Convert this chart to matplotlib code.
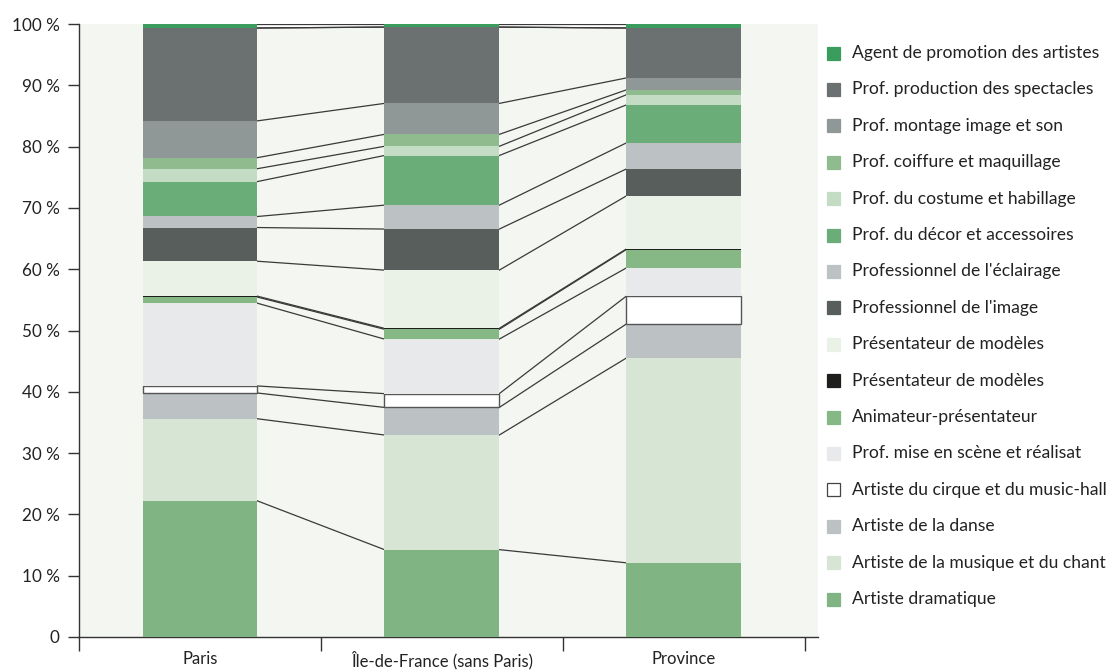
import numpy as np
import matplotlib.pyplot as plt
from matplotlib.patches import Rectangle

plt.rcParams['font.family'] = ['Lato', 'DejaVu Sans']

regions = ["Paris", "Île-de-France (sans Paris)", "Province"]

# stacking order, bottom to top (in %)
labels = ["Artiste dramatique", "Artiste de la musique et du chant", "Artiste de la danse",
          "Artiste du cirque et du music-hall", "Prof. mise en scène et réalisat",
          "Animateur-présentateur", "Présentateur de modèles", "Présentateur de modèles",
          "Professionnel de l'image", "Professionnel de l'éclairage",
          "Prof. du décor et accessoires", "Prof. du costume et habillage",
          "Prof. coiffure et maquillage", "Prof. montage image et son",
          "Prof. production des spectacles", "Agent de promotion des artistes"]

paris    = [22.2, 13.4, 4.2, 1.15, 13.5, 1.0, 0.15, 5.7, 5.5, 1.8, 5.7, 2.1, 1.8, 6.0, 15.15, 0.65]
idf      = [14.25, 18.7, 4.5, 2.25, 8.9, 1.6, 0.15, 9.5, 6.7, 3.9, 8.1, 1.5, 1.95, 5.05, 12.45, 0.5]
province = [12.1, 33.4, 5.55, 4.55, 4.6, 3.0, 0.1, 8.65, 4.4, 4.25, 6.2, 1.65, 0.8, 1.95, 8.15, 0.65]

colors = ["#80b482", "#d6e5d4", "#bcc1c3", "#ffffff", "#e8e9eb", "#86b886", "#1e1f1c",
          "#eaf2e8", "#585e5b", "#bcc1c3", "#6aad78", "#c5dcc4", "#8fbb8e", "#8f9797",
          "#6b7070", "#3a9d5d"]

data = np.array([paris, idf, province])   # shape (3, 16)
cum = np.cumsum(data, axis=1)
bottoms = cum - data

fig = plt.figure(figsize=(11.15, 6.71), dpi=100)
ax = fig.add_axes([0.0709, 0.0507, 0.6627, 0.9135])
ax.set_facecolor("#f4f6f1")

x = np.arange(len(regions))
w = 0.475
for k, lab in enumerate(labels):
    if lab.startswith("Artiste du cirque"):
        ax.bar(x, data[:, k], w, bottom=bottoms[:, k], color="white",
               edgecolor="#555555", linewidth=1.0, zorder=3)
    else:
        ax.bar(x, data[:, k], w, bottom=bottoms[:, k], color=colors[k],
               linewidth=0, zorder=3)

# connector lines between bars
for i in range(len(regions) - 1):
    x0, x1 = x[i] + w / 2, x[i + 1] - w / 2
    # top band is white between bars
    ax.fill_between([x0, x1], [bottoms[i, -1], bottoms[i + 1, -1]], [cum[i, -1], cum[i + 1, -1]],
                    color="white", zorder=2, linewidth=0)
    for k in range(len(labels)):
        ax.plot([x0, x1], [cum[i, k], cum[i + 1, k]], color="#3a3a3a", lw=0.9, zorder=2)
        if k == len(labels) - 1:
            ax.plot([x0, x1], [bottoms[i, k], bottoms[i + 1, k]], color="#3a3a3a", lw=0.9, zorder=2)

ax.set_xlim(-0.5, 2.555)
ax.set_ylim(0, 100)
ax.set_xticks(x)
ax.set_xticklabels(regions, fontsize=12, color="#222222")
ax.tick_params(axis="x", length=0, pad=10)
ax.set_xticks([-0.5, 0.5, 1.5, 2.5], minor=True)
ax.tick_params(axis="x", which="minor", length=10, width=1, color="#333333", direction="out")
ax.set_yticks(np.arange(0, 101, 10))
ax.set_yticklabels(["0"] + ["%d %%" % v for v in range(10, 101, 10)], fontsize=12.3, color="#222222")
ax.tick_params(axis="y", length=8, width=1, color="#333333", pad=6)
for s in ["top", "right"]:
    ax.spines[s].set_visible(False)
for s in ["left", "bottom"]:
    ax.spines[s].set_color("#333333")
    ax.spines[s].set_linewidth(1)

# legend, top to bottom = reverse stacking order
W, H = 1115.0, 671.0
for j, k in enumerate(range(len(labels) - 1, -1, -1)):
    yc = 53 + j * 36.4
    fc = colors[k]
    ec = "#444444" if labels[k].startswith("Artiste du cirque") else fc
    fig.patches.append(Rectangle((827 / W, 1 - (yc + 6.5) / H), 13 / W, 13 / H,
                                 transform=fig.transFigure, facecolor=fc, edgecolor=ec,
                                 linewidth=0.9))
    fig.text(852 / W, 1 - yc / H, labels[k], fontsize=12.6, color="#222222",
             va="center", ha="left")

fig.savefig("out.png", dpi=100)
